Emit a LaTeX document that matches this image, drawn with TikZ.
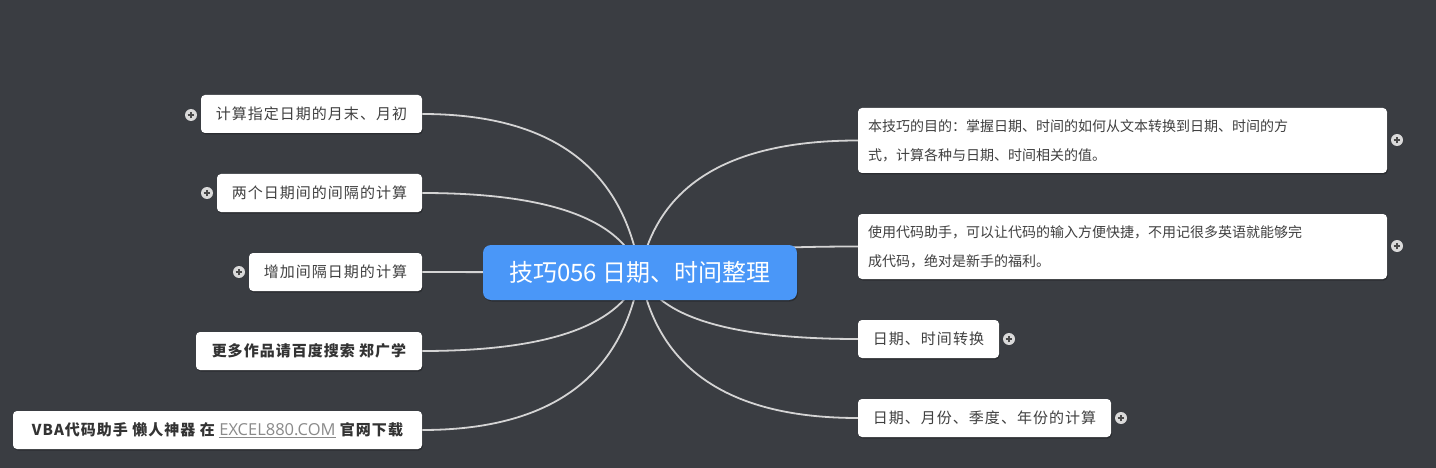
\documentclass[tikz,border=0pt]{standalone}
\usepackage{fontspec}
\setmainfont{Noto Sans CJK SC}
\newfontfamily\latinf{Open Sans}
\usetikzlibrary{calc,backgrounds,shadows}
\definecolor{bgc}{HTML}{3A3D42}
\definecolor{mblue}{HTML}{4A97F8}
\definecolor{txt}{HTML}{404040}
\definecolor{txtb}{HTML}{333333}
\definecolor{lnc}{HTML}{D4D4D4}
\definecolor{plusbg}{HTML}{DADADA}
\definecolor{plusfg}{HTML}{4A4A4A}
\definecolor{linkc}{HTML}{8A8A8A}
\newcommand\plusicon[3]{%
  \node[plusc] (#1) at (#2,#3) {};
  \draw[plusl] ([xshift=-3.3pt]#1.center) -- ([xshift=3.3pt]#1.center);
  \draw[plusl] ([yshift=-3.3pt]#1.center) -- ([yshift=3.3pt]#1.center);}
\tikzset{
  shd/.style={drop shadow={opacity=0.25, shadow xshift=0.8pt, shadow yshift=-1.5pt, fill=black}},
  maintopic/.style={rectangle, rounded corners=8pt, fill=mblue, text=white, inner sep=0pt,
    minimum width=314pt, minimum height=55pt, font=\fontsize{24}{28}\selectfont, shd},
  topic/.style={rectangle, rounded corners=4pt, fill=white, text=txt, inner sep=0pt,
    minimum height=38pt, font=\fontsize{15}{18}\selectfont\addfontfeature{LetterSpace=6.7}, shd},
  btopic/.style={topic, text=txtb, font=\fontsize{15}{18}\selectfont\bfseries\addfontfeature{LetterSpace=6.7}},
  longtopic/.style={rectangle, rounded corners=4pt, fill=white, text=txt, inner xsep=10pt, inner ysep=0pt,
    text width=509pt, align=left, minimum height=65pt, font=\fontsize{14}{29}\selectfont, shd},
  conn/.style={draw=lnc, line width=1.8pt},
  plusc/.style={circle, fill=plusbg, minimum size=12pt, inner sep=0pt},
  plusl/.style={draw=plusfg, line width=1.5pt}
}
\begin{document}
\begin{tikzpicture}[x=1pt,y=-1pt]
\useasboundingbox (0,0) rectangle (1436,468);
% nodes
\node[maintopic] (c) at (640,272.5) {技巧056 日期、时间整理};
\node[topic, minimum width=221pt] (l1) at (311.5,114) {计算指定日期的月末、月初};
\node[topic, minimum width=205pt] (l2) at (319.5,193) {两个日期间的间隔的计算};
\node[topic, minimum width=173pt] (l3) at (335.5,272) {增加间隔日期的计算};
\node[btopic, minimum width=226pt] (l4) at (309,351) {更多作品请百度搜索 郑广学};
\node[btopic, minimum width=409pt] (l5) at (217.5,430) {VBA代码助手 懒人神器 在 {\mdseries\latinf\fontsize{16.5}{18}\selectfont\color{linkc}\underline{EXCEL880.COM}} 官网下载};
\node[longtopic] (r1) at (1122.5,140.5) {本技巧的目的：掌握日期、时间的如何从文本转换到日期、时间的方\\式，计算各种与日期、时间相关的值。};
\node[longtopic] (r2) at (1122.5,246.5) {使用代码助手，可以让代码的输入方便快捷，不用记很多英语就能够完\\成代码，绝对是新手的福利。};
\node[topic, minimum width=141pt] (r3) at (928.5,339) {日期、时间转换};
\node[topic, minimum width=253pt] (r4) at (984.5,418) {日期、月份、季度、年份的计算};
% expand icons
\plusicon{p1}{191}{115}
\plusicon{p2}{207}{193}
\plusicon{p3}{239}{272}
\plusicon{p4}{1397}{140}
\plusicon{p5}{1397}{246}
\plusicon{p6}{1009}{339}
\plusicon{p7}{1121}{418}
% control points
\coordinate (k1) at (614,114);
\coordinate (k2) at (614,193);
\coordinate (k4) at (614,351);
\coordinate (k5) at (614,430);
\coordinate (q1) at (666,140.5);
\coordinate (q2) at (666,246.5);
\coordinate (q3) at (666,339);
\coordinate (q4) at (666,418);
\begin{scope}[on background layer]
\fill[bgc] (0,0) rectangle (1436,468);
\draw[conn] (c.center) .. controls ($(c.center)!0.667!(k1)$) and ($(l1.east)!0.667!(k1)$) .. (l1.east);
\draw[conn] (c.center) .. controls ($(c.center)!0.667!(k2)$) and ($(l2.east)!0.667!(k2)$) .. (l2.east);
\draw[conn] (c.center) -- (l3.east);
\draw[conn] (c.center) .. controls ($(c.center)!0.667!(k4)$) and ($(l4.east)!0.667!(k4)$) .. (l4.east);
\draw[conn] (c.center) .. controls ($(c.center)!0.667!(k5)$) and ($(l5.east)!0.667!(k5)$) .. (l5.east);
\draw[conn] (c.center) .. controls ($(c.center)!0.667!(q1)$) and ($(r1.west)!0.667!(q1)$) .. (r1.west);
\draw[conn] (c.center) .. controls ($(c.center)!0.667!(q2)$) and ($(r2.west)!0.667!(q2)$) .. (r2.west);
\draw[conn] (c.center) .. controls ($(c.center)!0.667!(q3)$) and ($(r3.west)!0.667!(q3)$) .. (r3.west);
\draw[conn] (c.center) .. controls ($(c.center)!0.667!(q4)$) and ($(r4.west)!0.667!(q4)$) .. (r4.west);
\end{scope}
\end{tikzpicture}
\end{document}
